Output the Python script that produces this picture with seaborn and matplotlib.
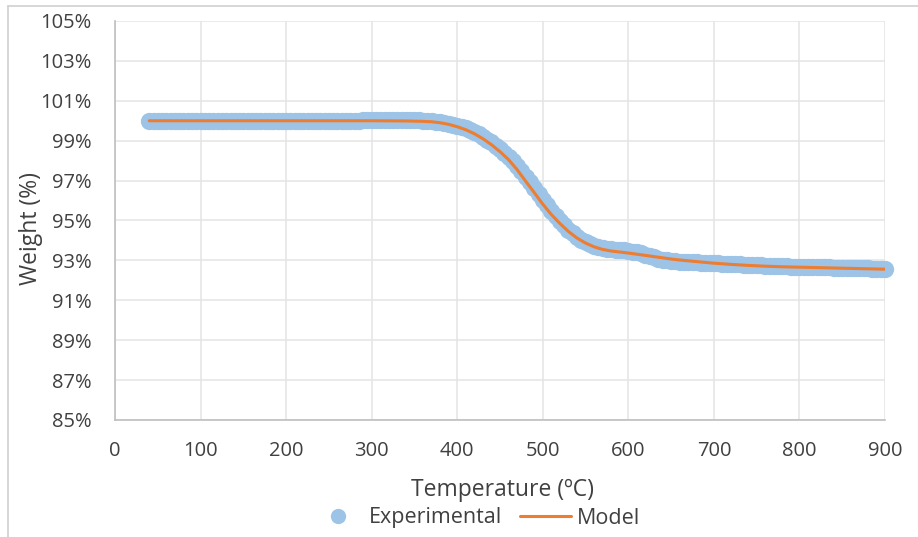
import numpy as np
import pandas as pd
import seaborn as sns
import matplotlib.pyplot as plt
from matplotlib.lines import Line2D
from matplotlib.ticker import FuncFormatter, FixedLocator

# Experimental TGA curve: temperature (ºC) and remaining weight (%)
exp_temp = [40, 45, 50, 55, 60, 65, 70, 75, 80, 85,
            90, 95, 100, 105, 110, 115, 120, 125, 130, 135,
            140, 145, 150, 155, 160, 165, 170, 175, 180, 185,
            190, 195, 200, 205, 210, 215, 220, 225, 230, 235,
            240, 245, 250, 255, 260, 265, 270, 275, 280, 285,
            290, 295, 300, 305, 310, 315, 320, 325, 330, 335,
            340, 345, 350, 355, 360, 365, 370, 375, 380, 385,
            390, 395, 400, 405, 410, 415, 420, 425, 430, 435,
            440, 445, 450, 455, 460, 465, 470, 475, 480, 485,
            490, 495, 500, 505, 510, 515, 520, 525, 530, 535,
            540, 545, 550, 555, 560, 565, 570, 575, 580, 585,
            590, 595, 600, 605, 610, 615, 620, 625, 630, 635,
            640, 645, 650, 655, 660, 665, 670, 675, 680, 685,
            690, 695, 700, 705, 710, 715, 720, 725, 730, 735,
            740, 745, 750, 755, 760, 765, 770, 775, 780, 785,
            790, 795, 800, 805, 810, 815, 820, 825, 830, 835,
            840, 845, 850, 855, 860, 865, 870, 875, 880, 885,
            890, 895, 900]
exp_weight = [100.00, 100.00, 100.00, 100.00, 100.00, 100.00, 100.00, 100.00, 100.00, 100.00,
              100.00, 100.00, 100.00, 100.00, 100.00, 100.00, 100.00, 100.00, 100.00, 100.00,
              100.00, 100.00, 100.00, 100.00, 100.00, 100.00, 100.00, 100.00, 100.01, 100.01,
              100.01, 100.01, 100.01, 100.01, 100.01, 100.01, 100.01, 100.01, 100.01, 100.01,
              100.01, 100.01, 100.01, 100.01, 100.01, 100.01, 100.01, 100.01, 100.01, 100.01,
              100.02, 100.02, 100.03, 100.03, 100.04, 100.04, 100.05, 100.05, 100.05, 100.05,
              100.04, 100.04, 100.03, 100.02, 100.01, 100.00, 99.98, 99.96, 99.93, 99.90,
              99.86, 99.81, 99.76, 99.70, 99.62, 99.54, 99.44, 99.33, 99.20, 99.06,
              98.91, 98.75, 98.58, 98.40, 98.20, 97.98, 97.74, 97.48, 97.20, 96.91,
              96.62, 96.33, 96.04, 95.76, 95.49, 95.23, 94.98, 94.75, 94.54, 94.35,
              94.18, 94.03, 93.90, 93.80, 93.72, 93.66, 93.62, 93.59, 93.56, 93.54,
              93.52, 93.50, 93.47, 93.44, 93.40, 93.35, 93.29, 93.22, 93.15, 93.09,
              93.04, 93.00, 92.97, 92.95, 92.94, 92.93, 92.92, 92.91, 92.90, 92.89,
              92.88, 92.87, 92.86, 92.85, 92.84, 92.83, 92.82, 92.81, 92.80, 92.79,
              92.78, 92.77, 92.76, 92.75, 92.74, 92.73, 92.72, 92.71, 92.70, 92.70,
              92.69, 92.69, 92.68, 92.68, 92.67, 92.67, 92.66, 92.66, 92.65, 92.65,
              92.64, 92.64, 92.63, 92.63, 92.62, 92.62, 92.61, 92.61, 92.60, 92.59,
              92.58, 92.58, 92.57]

# Kinetic model fitted to the experimental curve
model_temp = [40, 100, 200, 300, 340, 360, 370, 380, 390, 400,
              410, 420, 430, 440, 450, 460, 470, 480, 490, 500,
              510, 520, 530, 540, 550, 560, 570, 580, 590, 600,
              610, 620, 630, 640, 650, 660, 670, 680, 690, 700,
              720, 740, 760, 780, 800, 820, 840, 860, 880, 900]
model_weight = [100.00, 100.00, 100.00, 100.00, 99.99, 99.97, 99.95, 99.90, 99.82, 99.70,
                99.55, 99.35, 99.10, 98.80, 98.45, 98.05, 97.55, 96.97, 96.40, 95.82,
                95.30, 94.85, 94.45, 94.12, 93.87, 93.68, 93.55, 93.47, 93.42, 93.37,
                93.31, 93.25, 93.19, 93.13, 93.07, 93.02, 92.98, 92.94, 92.90, 92.86,
                92.80, 92.75, 92.71, 92.68, 92.66, 92.64, 92.62, 92.60, 92.58, 92.56]

# Axis ticks
x_ticks = [0, 100, 200, 300, 400, 500, 600, 700, 800, 900]
y_ticks = [85, 87, 89, 91, 93, 95, 97, 99, 101, 103, 105]

exp_df = pd.DataFrame({"Temperature": exp_temp, "Weight": exp_weight})
model_df = pd.DataFrame({"Temperature": model_temp, "Weight": model_weight})

sns.set_theme(style="white")
plt.rcParams["font.family"] = ["Open Sans", "DejaVu Sans"]

text_color = "#404040"
grid_color = "#E4E4E4"
axis_color = "#BFBFBF"
blue = "#9DC3E6"
orange = "#ED7D31"

fig = plt.figure(figsize=(9.18, 5.37), dpi=100)
ax = fig.add_axes([115 / 918, 1 - 420 / 537, 770 / 918, 399 / 537])

sns.scatterplot(data=exp_df, x="Temperature", y="Weight", ax=ax, color=blue,
                s=155, linewidth=0, alpha=1, zorder=3, clip_on=False,
                label="Experimental")
sns.lineplot(data=model_df, x="Temperature", y="Weight", ax=ax, color=orange,
             linewidth=2.2, zorder=4, label="Model")

ax.set_xlim(0, 900)
ax.set_ylim(85, 105)
ax.xaxis.set_major_locator(FixedLocator(x_ticks))
ax.yaxis.set_major_locator(FixedLocator(y_ticks))
ax.yaxis.set_major_formatter(FuncFormatter(lambda v, _: f"{v:.0f}%"))
ax.grid(True, color=grid_color, linewidth=1.1)
ax.set_axisbelow(True)

for side in ("top", "right"):
    ax.spines[side].set_visible(False)
for side in ("left", "bottom"):
    ax.spines[side].set_color(axis_color)
    ax.spines[side].set_linewidth(1.2)

ax.tick_params(axis="both", length=0, labelsize=14.5, labelcolor=text_color)
ax.tick_params(axis="y", pad=17)
ax.tick_params(axis="x", pad=15)

ax.set_xlabel("Temperature (ºC)", fontsize=16.5, color=text_color)
ax.set_ylabel("Weight (%)", fontsize=16.5, color=text_color)
ax.xaxis.label.set_verticalalignment("center")
ax.yaxis.label.set_verticalalignment("center")
ax.xaxis.set_label_coords(0.503, -(490 - 420) / 399)
ax.yaxis.set_label_coords(-(115 - 31) / 770, 0.48)

handles = [
    Line2D([], [], marker="o", linestyle="none", markersize=11,
           markerfacecolor=blue, markeredgewidth=0),
    Line2D([], [], color=orange, linewidth=2.2),
]
ax.legend(handles, ["Experimental", "Model"], loc="center",
          bbox_to_anchor=(476 / 918, 1 - 518 / 537), bbox_transform=fig.transFigure,
          ncol=2, frameon=False, fontsize=15.5, handlelength=2.4, handletextpad=0.25,
          columnspacing=0.8, labelcolor=text_color)

# Chart frame edges
fig.add_artist(Line2D([8 / 918, 8 / 918], [0, 1 - 6 / 537], transform=fig.transFigure,
                      color="#D0D0D0", linewidth=1.2))
fig.add_artist(Line2D([8 / 918, 1], [1 - 6 / 537, 1 - 6 / 537], transform=fig.transFigure,
                      color="#D0D0D0", linewidth=1.2))

fig.savefig("out.png", dpi=100)
